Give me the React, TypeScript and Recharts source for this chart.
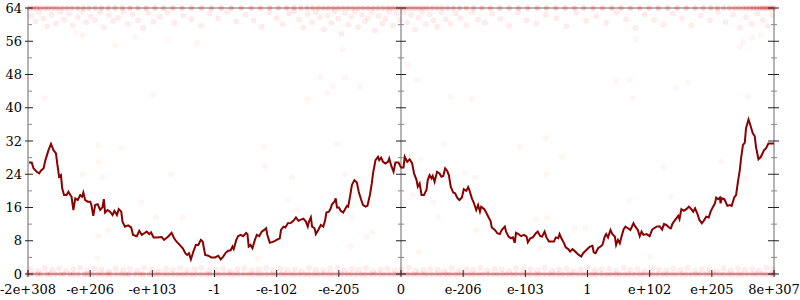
import React from "react";
import { ComposedChart, Line, Scatter, XAxis, YAxis, ReferenceLine } from "recharts";

// tick labels along the bottom (one per unit on the x scale)
const xTickLabels = ["-2e+308", "-e+206", "-e+103", "-1", "-e-102", "-e-205", "0", "e-206", "e-103", "1", "e+102", "e+205", "8e+307"];
const xTicks = [0, 1, 2, 3, 4, 5, 6, 7, 8, 9, 10, 11, 12];
const yTicks = [0, 4, 8, 12, 16, 20, 24, 28, 32, 36, 40, 44, 48, 52, 56, 60, 64];

// dark red trace: [x, value]
const trace: [number, number][] = [
  [0, 26.8], [0.06, 26.8], [0.09, 25.4], [0.14, 24.6], [0.18, 24.2], [0.21, 24.9], [0.25, 25.4], [0.28, 27.4],
  [0.33, 29.8], [0.37, 31.3], [0.41, 29.8], [0.45, 29.0], [0.47, 26.6], [0.5, 23.4], [0.53, 23.8], [0.55, 20.6],
  [0.58, 19.0], [0.62, 19.0], [0.65, 19.8], [0.68, 19.0], [0.7, 18.6], [0.73, 15.4], [0.76, 18.2], [0.8, 17.8],
  [0.84, 19.0], [0.87, 18.6], [0.89, 19.6], [0.92, 17.8], [0.96, 17.4], [1.0, 17.4], [1.02, 16.6], [1.05, 14.0],
  [1.08, 16.6], [1.12, 16.8], [1.16, 15.4], [1.2, 16.1], [1.22, 18.0], [1.24, 14.8], [1.28, 15.4], [1.32, 15.0],
  [1.36, 14.2], [1.39, 15.2], [1.43, 14.2], [1.46, 15.6], [1.5, 15.0], [1.52, 12.6], [1.56, 11.4], [1.61, 11.7],
  [1.66, 11.2], [1.69, 9.4], [1.75, 9.1], [1.79, 10.4], [1.83, 9.4], [1.87, 9.8], [1.91, 10.2], [1.95, 9.6],
  [1.98, 10.0], [2.02, 8.8], [2.07, 8.8], [2.15, 8.9], [2.19, 8.2], [2.26, 9.1], [2.31, 9.9], [2.35, 8.6],
  [2.39, 7.8], [2.44, 7.0], [2.49, 6.2], [2.53, 5.0], [2.56, 4.6], [2.59, 5.0], [2.62, 3.5], [2.66, 5.4],
  [2.7, 7.0], [2.74, 7.0], [2.78, 8.2], [2.81, 7.8], [2.85, 4.6], [2.9, 4.4], [2.95, 4.0], [3.01, 4.0],
  [3.06, 4.4], [3.1, 3.5], [3.14, 4.2], [3.18, 5.1], [3.22, 5.6], [3.26, 5.7], [3.29, 6.6], [3.31, 6.0],
  [3.35, 8.2], [3.38, 9.1], [3.42, 9.4], [3.46, 9.1], [3.51, 9.9], [3.53, 9.6], [3.55, 6.6], [3.58, 7.0],
  [3.61, 6.2], [3.65, 8.2], [3.68, 9.4], [3.72, 9.1], [3.76, 10.2], [3.8, 10.6], [3.83, 11.0], [3.85, 9.4],
  [3.89, 7.5], [3.95, 7.8], [4.0, 8.2], [4.05, 8.6], [4.07, 10.6], [4.11, 11.4], [4.14, 11.2], [4.18, 12.2],
  [4.23, 12.3], [4.27, 12.8], [4.31, 13.6], [4.35, 12.8], [4.39, 13.1], [4.43, 13.3], [4.47, 12.6], [4.5, 11.4],
  [4.52, 12.6], [4.55, 13.6], [4.57, 11.4], [4.61, 11.0], [4.63, 9.6], [4.67, 10.6], [4.71, 11.8], [4.75, 11.4],
  [4.78, 13.0], [4.8, 14.8], [4.84, 15.0], [4.87, 15.8], [4.89, 16.8], [4.93, 17.4], [4.95, 18.2], [4.97, 16.0],
  [5.0, 16.0], [5.03, 15.2], [5.07, 14.8], [5.1, 15.6], [5.13, 16.4], [5.15, 16.2], [5.18, 18.6], [5.21, 21.4],
  [5.25, 22.6], [5.29, 22.0], [5.32, 19.8], [5.36, 17.8], [5.39, 16.6], [5.43, 16.2], [5.46, 16.4], [5.5, 19.0],
  [5.53, 21.8], [5.55, 24.2], [5.59, 27.4], [5.63, 28.2], [5.65, 27.4], [5.68, 28.0], [5.71, 27.0], [5.75, 26.6],
  [5.79, 27.0], [5.81, 27.8], [5.84, 26.2], [5.88, 24.6], [5.91, 26.8], [5.96, 26.8], [6.0, 25.6], [6.04, 25.6],
  [6.06, 28.2], [6.1, 27.0], [6.14, 27.6], [6.18, 26.6], [6.21, 24.2], [6.25, 22.6], [6.27, 21.0], [6.3, 21.8],
  [6.33, 19.0], [6.37, 19.0], [6.41, 20.2], [6.43, 22.6], [6.46, 23.8], [6.49, 23.0], [6.51, 23.6], [6.54, 22.2],
  [6.58, 24.6], [6.62, 24.2], [6.65, 23.4], [6.68, 23.6], [6.71, 25.4], [6.74, 24.9], [6.77, 23.8], [6.8, 21.0],
  [6.84, 19.6], [6.87, 19.4], [6.91, 18.2], [6.94, 17.8], [6.98, 18.4], [7.01, 20.4], [7.05, 20.0], [7.08, 20.9],
  [7.1, 20.2], [7.14, 18.2], [7.17, 17.2], [7.21, 15.4], [7.24, 16.6], [7.27, 15.0], [7.29, 16.2], [7.34, 15.6],
  [7.37, 14.8], [7.41, 13.6], [7.44, 12.8], [7.46, 11.2], [7.51, 10.6], [7.55, 9.8], [7.59, 9.6], [7.62, 10.6],
  [7.67, 11.4], [7.69, 10.2], [7.73, 9.0], [7.77, 8.6], [7.8, 8.8], [7.83, 7.5], [7.85, 9.9], [7.89, 9.6],
  [7.93, 9.1], [7.98, 9.4], [8.02, 9.0], [8.04, 7.6], [8.08, 8.6], [8.12, 8.8], [8.17, 9.8], [8.2, 10.2],
  [8.24, 9.1], [8.27, 9.0], [8.31, 10.2], [8.34, 8.8], [8.38, 7.8], [8.42, 7.8], [8.46, 7.8], [8.49, 8.8],
  [8.53, 8.6], [8.55, 9.6], [8.58, 8.6], [8.62, 7.5], [8.65, 6.4], [8.69, 6.0], [8.72, 5.4], [8.76, 6.0],
  [8.79, 5.6], [8.83, 5.0], [8.86, 4.6], [8.9, 4.2], [8.93, 5.0], [8.97, 5.6], [9.01, 6.2], [9.04, 6.6],
  [9.08, 6.8], [9.1, 5.2], [9.13, 5.0], [9.17, 6.2], [9.21, 6.6], [9.24, 7.0], [9.28, 9.1], [9.3, 9.6],
  [9.33, 8.8], [9.37, 10.6], [9.4, 9.6], [9.44, 9.0], [9.46, 7.0], [9.49, 8.2], [9.52, 7.4], [9.54, 8.6],
  [9.58, 10.7], [9.61, 11.4], [9.65, 11.0], [9.69, 10.6], [9.74, 12.2], [9.77, 11.4], [9.81, 10.6], [9.84, 9.1],
  [9.87, 10.2], [9.9, 9.4], [9.95, 9.6], [10.0, 9.1], [10.04, 10.7], [10.11, 11.4], [10.16, 11.5], [10.2, 10.7],
  [10.23, 12.0], [10.27, 11.8], [10.31, 11.2], [10.34, 11.0], [10.37, 12.2], [10.41, 13.0], [10.46, 14.0], [10.48, 13.2],
  [10.51, 15.6], [10.55, 15.2], [10.59, 15.6], [10.63, 16.2], [10.66, 15.8], [10.7, 15.0], [10.73, 15.8], [10.77, 14.4],
  [10.8, 13.0], [10.84, 12.2], [10.87, 12.8], [10.91, 13.8], [10.95, 13.6], [10.98, 15.0], [11.02, 16.2], [11.05, 17.0],
  [11.07, 18.4], [11.1, 18.0], [11.13, 18.4], [11.14, 17.0], [11.16, 18.2], [11.2, 18.0], [11.22, 17.4], [11.25, 16.4],
  [11.29, 16.6], [11.32, 16.4], [11.36, 18.4], [11.39, 19.0], [11.42, 22.2], [11.45, 25.0], [11.47, 27.8], [11.5, 31.0],
  [11.53, 31.6], [11.55, 35.1], [11.59, 37.2], [11.62, 35.8], [11.66, 33.8], [11.69, 33.2], [11.71, 30.6], [11.75, 27.6],
  [11.79, 28.2], [11.84, 29.8], [11.87, 30.2], [11.91, 31.4], [11.96, 31.4], [12.0, 31.4],
];

// faint samples sitting on 0
const floorX = [
  0, 0.07, 0.15, 0.21, 0.3, 0.36, 0.44, 0.52, 0.58, 0.67, 0.73, 0.81, 0.9, 0.96, 1.04, 1.12, 1.19, 1.27, 1.33, 1.42,
  1.5, 1.57, 1.63, 1.72, 1.8, 1.86, 1.95, 2.03, 2.1, 2.18, 2.25, 2.33, 2.41, 2.48, 2.55, 2.63, 2.7, 2.78, 2.86, 2.93,
  3.01, 3.08, 3.16, 3.24, 3.31, 3.38, 3.46, 3.54, 3.61, 3.69, 3.76, 3.84, 3.92, 3.99, 4.07, 4.14, 4.22, 4.29, 4.37, 4.45,
  4.52, 4.6, 4.67, 4.75, 4.83, 4.9, 4.98, 5.05, 5.13, 5.2, 5.28, 5.36, 5.43, 5.51, 5.58, 5.66, 5.73, 5.81, 5.89, 5.96,
  6.03, 6.11, 6.19, 6.26, 6.34, 6.41, 6.49, 6.57, 6.64, 6.72, 6.79, 6.87, 6.94, 7.02, 7.1, 7.17, 7.25, 7.32, 7.4, 7.48,
  7.55, 7.63, 7.7, 7.78, 7.85, 7.93, 8.01, 8.08, 8.16, 8.23, 8.31, 8.39, 8.46, 8.54, 8.61, 8.69, 8.76, 8.84, 8.92, 8.99,
  9.07, 9.14, 9.22, 9.3, 9.37, 9.45, 9.52, 9.6, 9.67, 9.75, 9.83, 9.9, 9.98, 10.05, 10.13, 10.21, 10.28, 10.36, 10.43, 10.51,
  10.58, 10.66, 10.74, 10.81, 10.89, 10.96, 11.04, 11.12, 11.19, 11.27, 11.34, 11.42, 11.49, 11.57, 11.65, 11.72, 11.8, 11.87, 11.95, 12,
];

// faint samples just above 0
const floorHigh: [number, number][] = [
  [0.04, 1.2], [0.16, 0.8], [0.27, 1.4], [0.39, 1.0], [0.5, 1.3], [0.61, 0.7], [0.73, 1.2], [0.84, 1.5], [0.95, 0.9], [1.07, 1.3],
  [1.18, 1.1], [1.3, 0.6], [1.41, 1.4], [1.53, 1.0], [1.64, 1.2], [1.76, 0.8], [1.87, 1.5], [1.99, 1.1], [2.1, 0.7], [2.22, 1.3],
  [2.33, 1.0], [2.45, 1.4], [2.56, 0.9], [2.68, 1.2], [2.79, 1.5], [2.91, 0.8], [3.02, 1.1], [3.14, 1.3], [3.25, 0.7], [3.37, 1.2],
  [3.48, 1.4], [3.6, 0.9], [3.71, 1.1], [3.83, 1.5], [3.94, 0.8], [4.06, 1.3], [4.17, 1.0], [4.29, 1.2], [4.4, 0.7], [4.52, 1.4],
  [4.63, 1.1], [4.75, 0.9], [4.86, 1.3], [4.98, 1.5], [5.09, 0.8], [5.21, 1.2], [5.32, 1.0], [5.44, 1.4], [5.55, 0.7], [5.67, 1.1],
  [5.78, 1.3], [5.9, 0.9], [6.01, 1.2], [6.13, 1.5], [6.24, 0.8], [6.36, 1.0], [6.47, 1.3], [6.59, 1.1], [6.7, 0.7], [6.82, 1.4],
  [6.93, 0.9], [7.05, 1.2], [7.16, 1.0], [7.28, 1.5], [7.39, 0.8], [7.51, 1.3], [7.62, 1.1], [7.74, 0.7], [7.85, 1.4], [7.97, 1.0],
  [8.08, 1.2], [8.2, 0.9], [8.31, 1.5], [8.43, 0.8], [8.54, 1.1], [8.66, 1.3], [8.77, 0.7], [8.89, 1.2], [9.0, 1.4], [9.12, 0.9],
  [9.23, 1.1], [9.35, 1.3], [9.46, 0.8], [9.58, 1.5], [9.69, 1.0], [9.81, 1.2], [9.92, 0.7], [10.04, 1.4], [10.15, 1.1], [10.27, 0.9],
  [10.38, 1.3], [10.5, 1.0], [10.61, 1.5], [10.73, 0.8], [10.84, 1.2], [10.96, 1.1], [11.07, 0.7], [11.19, 1.4], [11.3, 0.9], [11.42, 1.3],
  [11.53, 1.0], [11.65, 1.2], [11.76, 0.8], [11.88, 1.5], [11.98, 1.1],
];

// faint samples sitting on 64
const ceilX = [
  0.02, 0.08, 0.14, 0.2, 0.27, 0.33, 0.4, 0.47, 0.55, 0.63, 0.71, 0.8, 0.89, 0.98, 1.08, 1.18, 1.29, 1.4, 1.52, 1.64,
  1.77, 1.9, 2.04, 2.18, 2.33, 2.48, 2.63, 2.79, 2.95, 3.11, 3.27, 3.43, 3.59, 3.74, 3.89, 4.03, 4.16, 4.28, 4.39, 4.49,
  4.58, 4.67, 4.75, 4.83, 4.91, 4.99, 5.07, 5.15, 5.23, 5.31, 5.39, 5.47, 5.55, 5.63, 5.71, 5.79, 5.86, 5.93, 6.0, 6.07,
  6.14, 6.21, 6.28, 6.35, 6.42, 6.5, 6.58, 6.66, 6.75, 6.84, 6.94, 7.05, 7.17, 7.3, 7.44, 7.59, 7.74, 7.89, 8.04, 8.19,
  8.34, 8.49, 8.64, 8.79, 8.94, 9.09, 9.24, 9.39, 9.54, 9.69, 9.84, 9.99, 10.14, 10.29, 10.44, 10.59, 10.73, 10.86, 10.98, 11.09,
  11.19, 11.28, 11.36, 11.43, 11.5, 11.56, 11.62, 11.67, 11.72, 11.77, 11.81, 11.85, 11.89, 11.93, 11.97, 12.0,
];

// faint samples just below 64
const nearTop: [number, number][] = [
  [0.05, 62.1], [0.12, 60.8], [0.18, 63.0], [0.25, 61.5], [0.31, 59.6], [0.38, 62.4], [0.45, 60.3], [0.52, 63.1], [0.58, 61.2], [0.66, 62.6],
  [0.72, 59.9], [0.8, 61.8], [0.87, 63.2], [0.94, 60.6], [1.01, 62.0], [1.08, 61.1], [1.16, 63.0], [1.22, 59.4], [1.3, 62.3], [1.37, 60.9],
  [1.45, 61.7], [1.53, 63.1], [1.6, 60.2], [1.68, 62.5], [1.77, 61.0], [1.85, 59.2], [1.93, 62.8], [2.02, 60.7], [2.12, 61.9], [2.24, 63.0],
  [2.36, 60.4], [2.5, 62.2], [2.63, 61.3], [2.78, 59.8], [2.92, 62.7], [3.06, 61.5], [3.2, 63.1], [3.35, 60.8], [3.5, 62.4], [3.63, 61.0],
  [3.76, 59.5], [3.88, 62.9], [4.0, 61.6], [4.1, 60.1], [4.2, 62.7], [4.28, 63.3], [4.36, 61.2], [4.43, 59.3], [4.5, 62.5], [4.57, 60.6],
  [4.63, 63.0], [4.7, 61.8], [4.76, 58.9], [4.82, 62.2], [4.88, 60.4], [4.93, 63.2], [4.99, 61.5], [5.04, 57.8], [5.1, 62.8], [5.15, 60.0],
  [5.2, 61.9], [5.26, 63.1], [5.31, 59.4], [5.37, 62.4], [5.42, 60.8], [5.47, 61.6], [5.53, 63.0], [5.58, 58.6], [5.64, 62.1], [5.7, 60.3],
  [5.75, 61.4], [5.81, 63.2], [5.87, 59.8], [5.93, 62.6], [5.98, 61.1], [6.04, 63.0], [6.1, 60.5], [6.16, 62.3], [6.22, 58.8], [6.28, 61.7],
  [6.34, 63.1], [6.4, 60.1], [6.46, 62.5], [6.52, 61.0], [6.58, 59.5], [6.65, 62.9], [6.72, 61.3], [6.8, 60.2], [6.88, 62.7], [6.96, 61.6],
  [7.05, 59.9], [7.14, 63.0], [7.24, 61.2], [7.35, 60.5], [7.47, 62.6], [7.6, 61.4], [7.74, 59.7], [7.88, 62.9], [8.02, 61.0], [8.18, 60.3],
  [8.33, 62.4], [8.5, 61.5], [8.66, 59.6], [8.82, 62.8], [8.98, 60.9], [9.14, 62.1], [9.3, 60.4], [9.46, 63.0], [9.62, 61.3], [9.77, 59.2],
  [9.92, 62.5], [10.07, 61.1], [10.22, 60.0], [10.37, 62.7], [10.52, 61.6], [10.67, 59.8], [10.82, 62.2], [10.97, 61.0], [11.1, 63.1], [11.22, 60.6],
  [11.34, 62.4], [11.45, 59.3], [11.55, 61.8], [11.64, 60.2], [11.73, 62.6], [11.82, 61.1], [11.9, 59.7], [11.97, 62.3],
];

// scattered samples in between
const stray: [number, number][] = [
  [0.27, 42.3], [2.01, 43.0], [1.13, 31.0], [1.5, 30.5], [1.14, 27.0], [0.88, 24.0], [1.19, 23.4], [1.82, 17.3], [1.29, 10.6], [1.13, 9.1],
  [1.11, 3.8], [3.8, 30.6], [3.81, 26.0], [2.3, 24.0], [2.06, 13.7], [2.49, 13.7], [3.7, 3.8], [4.97, 31.3], [4.25, 23.3], [5.1, 24.0],
  [4.18, 17.8], [4.33, 15.4], [5.21, 13.7], [5.2, 6.7], [5.45, 8.9], [5.53, 10.1], [6.68, 31.3], [6.32, 27.7], [7.03, 24.3], [7.19, 23.3],
  [6.19, 19.0], [6.51, 17.3], [6.59, 13.7], [7.21, 10.6], [6.29, 5.3], [7.91, 30.6], [8.33, 32.7], [8.59, 28.2], [8.34, 24.0], [9.67, 17.6],
  [8.17, 13.2], [8.35, 13.5], [8.8, 11.0], [8.96, 11.0], [8.24, 6.3], [10.23, 25.7], [11.15, 27.0], [10.34, 18.5], [11.53, 23.1], [10.01, 4.1],
  [9.46, 46.4], [9.68, 46.7], [10.62, 46.2], [10.42, 44.7], [9.73, 42.3], [11.57, 42.6], [9.78, 56.5], [11.45, 54.6], [11.5, 55.8], [11.65, 56.8],
  [11.79, 57.5], [5.07, 53.9], [6.11, 50.3], [6.26, 46.7], [4.7, 47.4], [5.1, 47.2], [5.34, 45.2], [4.91, 45.2], [4.81, 43.5], [6.8, 42.6],
  [7.13, 42.1], [4.49, 42.1], [1.4, 55.1], [1.72, 57.0], [2.25, 56.3], [2.72, 55.6], [0.77, 58.0], [0.88, 57.5],
];

const PLOT_W = 746;
const AXIS_GREY = "#b4b4b4";
const FONT = "DejaVu Serif";

const pairs = (list: [number, number][]) => list.map(([x, y]) => ({ x, y }));
const edgeSamples = [...floorX.map((x) => ({ x, y: 0 })), ...ceilX.map((x) => ({ x, y: 64 }))];
const nearSamples = [...pairs(floorHigh), ...pairs(nearTop)];
const straySamples = pairs(stray);
const traceData = pairs(trace);

function makeBlob(opacity: number, rim: number) {
  return function Blob(props: any) {
    return (
      <circle
        cx={props.cx}
        cy={props.cy}
        r={2.6}
        fill="#ff0000"
        fillOpacity={opacity}
        stroke="#ff0000"
        strokeOpacity={rim}
        strokeWidth={0.8}
      />
    );
  };
}
const EdgeBlob = makeBlob(0.22, 0);
const NearBlob = makeBlob(0.07, 0.05);
const StrayBlob = makeBlob(0.04, 0.03);

function YTick(props: any) {
  const { x, y, payload } = props;
  const major = payload.value % 8 === 0;
  const mid = x + PLOT_W / 2;
  const right = x + PLOT_W;
  if (!major) {
    return (
      <g stroke="#888" strokeWidth={1}>
        <line x1={x} x2={x + 4} y1={y} y2={y} />
        <line x1={mid - 3} x2={mid + 3} y1={y} y2={y} />
        <line x1={right - 3} x2={right + 3} y1={y} y2={y} />
      </g>
    );
  }
  return (
    <g>
      <g stroke="#222" strokeWidth={1}>
        <line x1={x - 3} x2={x + 5} y1={y} y2={y} />
        <line x1={mid - 5} x2={mid + 5} y1={y} y2={y} />
        <line x1={right - 6} x2={right + 5} y1={y} y2={y} />
      </g>
      <text x={x - 6} y={y} dy="0.35em" textAnchor="end" fontFamily={FONT} fontSize={13} fill="#000">
        {payload.value}
      </text>
    </g>
  );
}

function XTick(props: any) {
  const { x, y, payload } = props;
  return (
    <g>
      <line x1={x} x2={x} y1={y - 4} y2={y + 3} stroke="#222" strokeWidth={1} />
      <text x={x} y={y + 20} textAnchor="middle" fontFamily={FONT} fontSize={13} fill="#000">
        {xTickLabels[payload.value]}
      </text>
    </g>
  );
}

export default function App() {
  return (
    <div style={{ position: "absolute", left: 0, top: 0, width: 800, height: 300, background: "#fff" }}>
      <ComposedChart width={800} height={300} margin={{ top: 8, right: 26, bottom: 0, left: 0 }}>
        <XAxis
          dataKey="x"
          type="number"
          domain={[0, 12]}
          ticks={xTicks}
          interval={0}
          height={26}
          tickSize={0}
          tickMargin={0}
          tickLine={false}
          axisLine={{ stroke: AXIS_GREY, strokeWidth: 2 }}
          tick={<XTick />}
        />
        <YAxis
          type="number"
          domain={[0, 64]}
          ticks={yTicks}
          interval={0}
          width={28}
          tickSize={0}
          tickMargin={0}
          tickLine={false}
          axisLine={{ stroke: AXIS_GREY, strokeWidth: 2 }}
          tick={<YTick />}
        />
        <ReferenceLine y={64} stroke={AXIS_GREY} strokeWidth={2} />
        <ReferenceLine x={6} stroke={AXIS_GREY} strokeWidth={2} />
        <ReferenceLine x={12} stroke={AXIS_GREY} strokeWidth={2} />
        <Scatter data={straySamples} dataKey="y" shape={<StrayBlob />} isAnimationActive={false} />
        <Scatter data={nearSamples} dataKey="y" shape={<NearBlob />} isAnimationActive={false} />
        <Scatter data={edgeSamples} dataKey="y" shape={<EdgeBlob />} isAnimationActive={false} />
        <Line
          data={traceData}
          dataKey="y"
          type="linear"
          stroke="#8b0000"
          strokeWidth={2}
          dot={false}
          activeDot={false}
          isAnimationActive={false}
        />
      </ComposedChart>
    </div>
  );
}
